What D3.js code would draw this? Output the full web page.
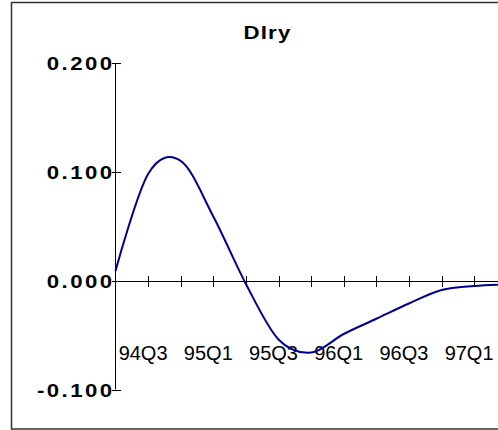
<!DOCTYPE html>
<html>
<head>
<meta charset="utf-8">
<script src="https://cdn.jsdelivr.net/npm/d3@7"></script>
<style>
  html, body { margin: 0; padding: 0; background: #fff; overflow: hidden; }
  svg { display: block; }
</style>
</head>
<body>
<svg id="chart" width="498" height="430"></svg>
<script>
// Quarterly response of Dlry
const quarters = ["94Q2","94Q3","94Q4","95Q1","95Q2","95Q3","95Q4",
                  "96Q1","96Q2","96Q3","96Q4","97Q1","97Q2"];
const dlry = [0.009, 0.098, 0.110, 0.059, -0.003, -0.054, -0.066,
              -0.049, -0.035, -0.021, -0.0086, -0.0049, -0.0035];
const yTicks = [0.2, 0.1, 0.0, -0.1];
const xLabelEvery = 2; // label every other quarter, starting at 94Q3
const title = "DIry";

const FONT = "Liberation Sans, Arial, sans-serif";
const svg = d3.select("#chart");

// outer frame (extends past the right edge of the window)
svg.append("rect")
  .attr("x", 11.5).attr("y", 2.5)
  .attr("width", 540).attr("height", 426.5)
  .attr("fill", "none")
  .attr("stroke", "#333")
  .attr("stroke-width", 1.5);

const x = d3.scalePoint().domain(quarters).range([115.5, 115.5 + 32.6 * (quarters.length - 1)]);
const y = d3.scaleLinear().domain([-0.1, 0.2]).range([389.5, 63]);
const fmt = d => d3.format(".3f")(d).replace("\u2212", "-");

// title (bold, slightly widened)
svg.append("g")
  .attr("transform", "translate(267.5,38.5) scale(1.2,1)")
  .append("text")
  .attr("text-anchor", "middle")
  .attr("font-family", FONT)
  .attr("font-weight", "bold")
  .attr("font-size", 18.5)
  .attr("letter-spacing", 1)
  .text(title);

// y axis line
svg.append("line")
  .attr("x1", 115.5).attr("x2", 115.5)
  .attr("y1", y(0.2)).attr("y2", y(-0.1))
  .attr("stroke", "#000").attr("stroke-width", 1);

// y ticks and labels
const yg = svg.append("g");
yg.selectAll("line").data(yTicks).join("line")
  .attr("x1", 112).attr("x2", 121)
  .attr("y1", d => Math.round(y(d)) + 0.5)
  .attr("y2", d => Math.round(y(d)) + 0.5)
  .attr("stroke", "#000").attr("stroke-width", 1);
yg.selectAll("g.lab").data(yTicks).join("g")
  .attr("class", "lab")
  .attr("transform", d => `translate(114.4,${y(d) + 7}) scale(1.2,1)`)
  .append("text")
  .attr("text-anchor", "end")
  .attr("font-family", FONT)
  .attr("font-weight", "bold")
  .attr("font-size", 18.5)
  .attr("letter-spacing", 2)
  .text(fmt);

// x axis line at zero
const y0 = Math.round(y(0)) + 0.5;
svg.append("line")
  .attr("x1", 115.5).attr("x2", 560)
  .attr("y1", y0).attr("y2", y0)
  .attr("stroke", "#000").attr("stroke-width", 1);

// x ticks crossing the zero line
svg.append("g").selectAll("line").data(quarters.slice(1)).join("line")
  .attr("x1", d => Math.round(x(d)) + 0.5)
  .attr("x2", d => Math.round(x(d)) + 0.5)
  .attr("y1", y0 - 5.5).attr("y2", y0 + 5.5)
  .attr("stroke", "#000").attr("stroke-width", 1);

// x labels
svg.append("g").selectAll("text")
  .data(quarters.filter((q, i) => i % xLabelEvery === 1))
  .join("text")
  .attr("x", d => x(d) - 5)
  .attr("y", 360)
  .attr("text-anchor", "middle")
  .attr("font-family", FONT)
  .attr("font-size", 20)
  .attr("fill", "#000")
  .text(d => d);

// response line
const line = d3.line()
  .x((d, i) => x(quarters[i]))
  .y(d => y(d))
  .curve(d3.curveCardinal.tension(0));

svg.append("path")
  .datum(dlry)
  .attr("d", line)
  .attr("fill", "none")
  .attr("stroke", "#00008f")
  .attr("stroke-width", 2);
</script>
</body>
</html>
